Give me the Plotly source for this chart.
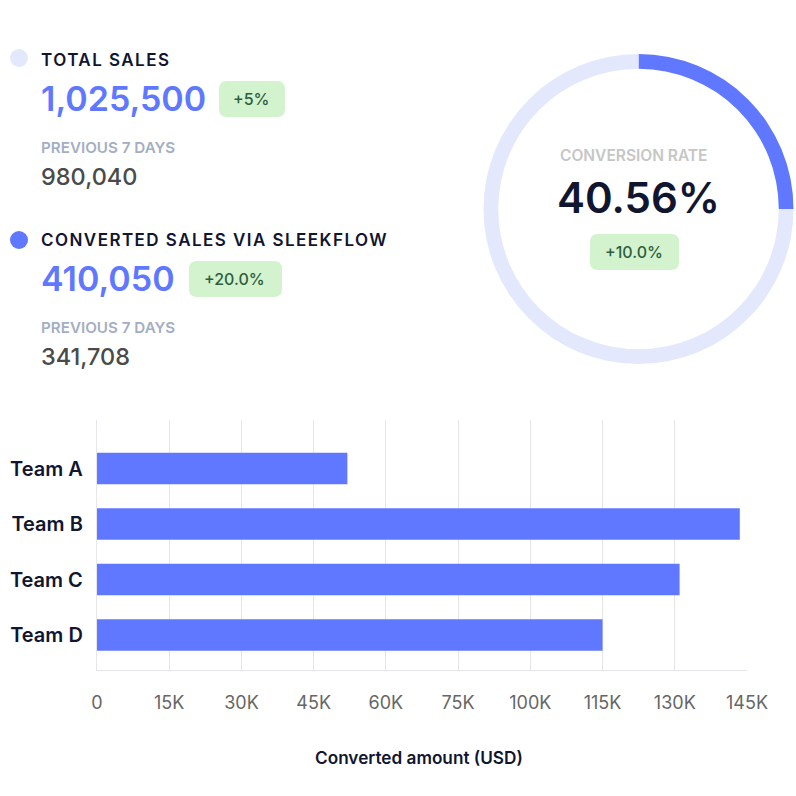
import json
import numpy as np
import plotly.graph_objects as go

teams = ["Team A", "Team B", "Team C", "Team D"]
converted_amount = [52000, 143500, 131000, 115000]
tick_values = [0, 15000, 30000, 45000, 60000, 75000, 100000, 115000, 130000, 145000]
tick_labels = ["0", "15K", "30K", "45K", "60K", "75K", "100K", "115K", "130K", "145K"]
ring_values = [25, 75]
spaced_titles = ["TOTAL SALES", "CONVERTED SALES VIA SLEEKFLOW"]

BLUE = "#6078ff"
PALE = "#e3e8fd"
NAVY = "#10162f"
BADGE = "#d3f3cf"
BADGE_TEXT = "#2c5e3d"
GRID = "#e4e6ea"
FONT = "Inter"
SIZE = 796


def fx(px):
    return px / SIZE


def fy(px):
    return 1 - px / SIZE


def label(x, y, text, size, color, weight=400, anchor="left"):
    return dict(
        x=fx(x), y=fy(y), xref="paper", yref="paper", text=text, showarrow=False,
        xanchor=anchor, yanchor="middle", borderpad=0,
        font=dict(family=FONT, size=size, color=color, weight=weight),
    )


def badge(x0, x1, y0, y1, r=8):
    # rounded box, in paper coordinates
    p = (f"M {fx(x0 + r)} {fy(y0)} L {fx(x1 - r)} {fy(y0)} "
         f"Q {fx(x1)} {fy(y0)} {fx(x1)} {fy(y0 + r)} L {fx(x1)} {fy(y1 - r)} "
         f"Q {fx(x1)} {fy(y1)} {fx(x1 - r)} {fy(y1)} L {fx(x0 + r)} {fy(y1)} "
         f"Q {fx(x0)} {fy(y1)} {fx(x0)} {fy(y1 - r)} L {fx(x0)} {fy(y0 + r)} "
         f"Q {fx(x0)} {fy(y0)} {fx(x0 + r)} {fy(y0)} Z")
    return dict(type="path", path=p, xref="paper", yref="paper",
                fillcolor=BADGE, line=dict(width=0), layer="below")


def dot(cx, cy, r, color):
    return dict(type="circle", xref="paper", yref="paper",
                x0=fx(cx - r), x1=fx(cx + r), y0=fy(cy + r), y1=fy(cy - r),
                fillcolor=color, line=dict(width=0))


# the axis is evenly spaced by tick, not by value (75K is followed by 100K)
tick_pos = np.arange(len(tick_values))
bar_pos = np.interp(converted_amount, tick_values, tick_pos)

fig = go.Figure()
fig.add_trace(go.Bar(
    y=teams, x=bar_pos, orientation="h", width=0.57,
    marker=dict(color=BLUE, line=dict(width=0)), showlegend=False,
))
fig.add_trace(go.Pie(
    values=ring_values, hole=0.905, sort=False, direction="clockwise", rotation=0,
    marker=dict(colors=[BLUE, PALE], line=dict(width=0)),
    textinfo="none", showlegend=False,
    domain=dict(x=[fx(483.5), fx(793.5)], y=[fy(364), fy(54)]),
))

annotations = [
    label(40, 60, spaced_titles[0], 17, NAVY, 600),
    label(40, 98, "1,025,500", 34, BLUE, 600),
    label(251, 99, "+5%", 16, BADGE_TEXT, 500, "center"),
    label(40, 147.5, "PREVIOUS 7 DAYS", 15.2, "#a3aec4", 600),
    label(40, 176, "980,040", 23.5, "#4a4a4a", 500),
    label(40, 240, spaced_titles[1], 17, NAVY, 600),
    label(40, 278, "410,050", 34, BLUE, 600),
    label(235, 279, "+20.0%", 16, BADGE_TEXT, 500, "center"),
    label(40, 327.5, "PREVIOUS 7 DAYS", 15.2, "#a3aec4", 600),
    label(40, 356, "341,708", 23.5, "#4a4a4a", 500),
    label(634, 155, "CONVERSION RATE", 15.5, "#c6c6c6", 600, "center"),
    label(638, 197, "40.56%", 42, NAVY, 600, "center"),
    label(634, 252, "+10.0%", 16, BADGE_TEXT, 500, "center"),
    label(419, 757, "Converted amount (USD)", 17.2, NAVY, 600, "center"),
]

fig.update_layout(
    width=SIZE, height=SIZE, autosize=False,
    margin=dict(l=0, r=0, t=0, b=0),
    paper_bgcolor="white", plot_bgcolor="white",
    font=dict(family=FONT),
    annotations=annotations,
    shapes=[
        dot(19, 58, 9, PALE),
        dot(19, 240, 9, BLUE),
        badge(219, 285, 81, 117),
        badge(189, 282, 261, 297),
        badge(590, 679, 234, 270),
    ],
    xaxis=dict(
        domain=[fx(97), fx(747)], range=[0, 9],
        tickmode="array", tickvals=tick_pos, ticktext=tick_labels,
        showgrid=True, gridcolor=GRID, gridwidth=1.3, zeroline=False,
        showline=True, linecolor=GRID, linewidth=1.3, ticks="outside", ticklen=16,
        tickcolor="rgba(0,0,0,0)", tickfont=dict(family=FONT, size=18, color="#666666"),
        anchor="y", automargin=False,
    ),
    yaxis=dict(
        domain=[fy(670), fy(420)], range=[3.63, -0.874],
        tickfont=dict(family=FONT, size=20, color=NAVY, weight=600),
        showgrid=False, zeroline=False, showline=True, linecolor=GRID, linewidth=1.3,
        ticks="outside", ticklen=9, tickcolor="rgba(0,0,0,0)",
        anchor="x", automargin=False,
    ),
)

# page body has a default margin, drop it so the figure fills the window;
# plotly has no letter spacing option, so the two headings get it through css
# (the text is centre anchored, so move it by half of what the spacing adds)
post_script = """
document.body.style.margin = '0';
var spaced = %s;
var gap = 1.45;
document.querySelectorAll('.annotation-text').forEach(function (t) {
    if (spaced.indexOf(t.textContent) >= 0) {
        t.style.letterSpacing = gap + 'px';
        var x = parseFloat(t.getAttribute('x'));
        t.setAttribute('x', x + gap * t.textContent.length / 2);
    }
});
""" % json.dumps(spaced_titles)

fig.write_html("out.html", config=dict(displayModeBar=False), post_script=post_script)
